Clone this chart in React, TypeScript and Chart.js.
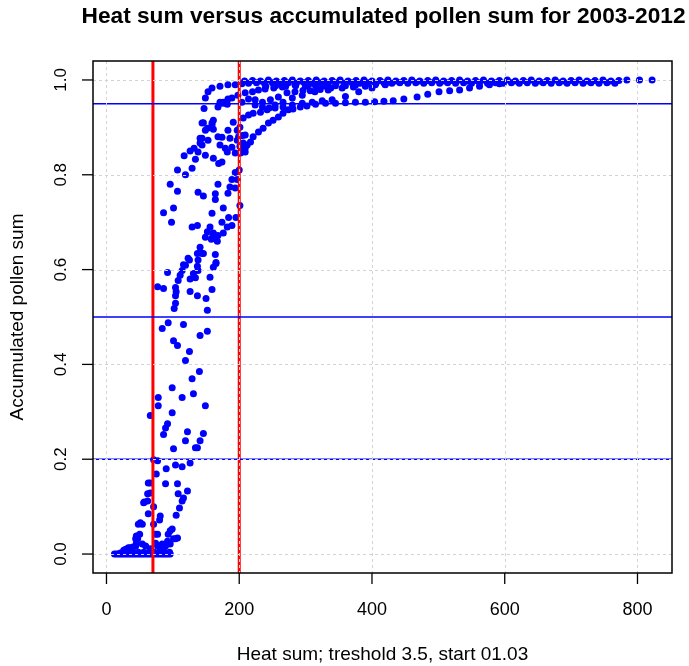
import { useEffect, useRef } from "react";
import { Chart, registerables } from "chart.js";

Chart.register(...registerables);

type P = [number, number];

const titleText = "Heat sum versus accumulated pollen sum for 2003-2012";
const xAxisTitle = "Heat sum; treshold 3.5, start 01.03";
const yAxisTitle = "Accumulated pollen sum";

const xTicks = [0, 200, 400, 600, 800];
const xTickLabels = ["0", "200", "400", "600", "800"];
const yTicks = [0, 0.2, 0.4, 0.6, 0.8, 1.0];
const yTickLabels = ["0.0", "0.2", "0.4", "0.6", "0.8", "1.0"];

const redVerticals = [70, 200];
const blueHorizontals = [0.2, 0.5, 0.95];

const baselineRow: P[] = [
  [12, 0], [15, 0], [18, 0], [21, 0], [24, 0], [27, 0], [30, 0], [33, 0], [36, 0], [39, 0],
  [42, 0], [45, 0], [48, 0], [51, 0], [54, 0], [57, 0], [60, 0], [63, 0], [66, 0], [69, 0],
  [72, 0], [75, 0], [78, 0], [81, 0], [84, 0], [87, 0], [90, 0], [93, 0], [96, 0],
  [40, 0.004], [48, 0.004], [56, 0.004], [64, 0.004], [72, 0.004], [80, 0.004], [88, 0.004], [95, 0.004],
];

const earlyRise: P[] = [
  [21, 0.002], [26, 0.008], [29, 0.01], [33, 0.013], [36, 0.013], [40, 0.015], [44, 0.017], [44, 0.032],
  [45, 0.038], [47, 0.032], [45, 0.023], [48, 0.063], [51, 0.066], [50, 0.042], [54, 0.021], [54, 0.063],
  [56, 0.108], [57, 0.11], [59, 0.017], [62, 0.112], [62, 0.127], [63, 0.085], [63, 0.15], [66, 0.129],
  [66, 0.011], [66, 0.15], [71, 0.063], [71, 0.1], [71, 0.199], [74, 0.023], [74, 0.042], [75, 0.169],
  [77, 0.017], [77, 0.042], [77, 0.197], [80, 0.072], [81, 0.08], [81, 0.011], [84, 0.021], [89, 0.017],
  [89, 0.148], [90, 0.18], [92, 0.027], [93, 0.042], [96, 0.021], [96, 0.049], [99, 0.053], [101, 0.032],
  [104, 0.032], [107, 0.034], [101, 0.222], [104, 0.188], [105, 0.082], [107, 0.148], [108, 0.127],
  [110, 0.097], [114, 0.112], [114, 0.184], [116, 0.118], [119, 0.239], [122, 0.133], [126, 0.192],
  [134, 0.224], [137, 0.224], [141, 0.239], [146, 0.254],
];

const midRise: P[] = [
  [66, 0.292], [78, 0.313], [78, 0.33], [86, 0.252], [89, 0.266], [92, 0.275], [99, 0.298], [99, 0.351],
  [114, 0.33], [122, 0.258], [131, 0.338], [129, 0.37], [140, 0.385], [149, 0.313], [119, 0.408],
  [125, 0.427], [101, 0.45], [107, 0.44], [84, 0.476], [93, 0.488], [116, 0.484], [141, 0.461],
  [152, 0.47], [152, 0.514], [150, 0.539], [156, 0.584], [159, 0.558], [77, 0.564], [86, 0.56],
  [92, 0.594], [102, 0.518], [104, 0.529], [104, 0.545], [105, 0.553], [104, 0.562], [108, 0.577],
  [111, 0.588], [114, 0.598], [119, 0.609], [123, 0.624], [126, 0.554], [126, 0.58], [134, 0.583],
  [137, 0.545], [138, 0.598], [131, 0.592], [137, 0.607], [138, 0.62], [125, 0.62], [116, 0.61],
  [137, 0.634], [141, 0.636], [146, 0.634], [141, 0.647], [144, 0.634], [161, 0.605], [164, 0.632],
  [165, 0.613], [165, 0.615],
];

const upperRise: P[] = [
  [86, 0.72], [98, 0.7], [101, 0.73], [96, 0.78], [107, 0.765], [107, 0.81], [119, 0.8], [117, 0.84],
  [126, 0.85], [129, 0.814], [134, 0.833], [132, 0.856], [141, 0.867], [144, 0.877], [138, 0.848],
  [144, 0.863], [153, 0.873], [141, 0.877], [146, 0.91], [144, 0.909], [152, 0.898], [159, 0.905],
  [161, 0.915], [149, 0.894], [159, 0.909], [161, 0.896], [129, 0.69], [137, 0.693], [138, 0.763],
  [146, 0.755], [149, 0.668], [152, 0.68], [156, 0.69], [158, 0.664], [160, 0.67], [161, 0.677],
  [167, 0.66], [168, 0.672], [164, 0.76], [164, 0.748], [168, 0.78], [159, 0.719], [174, 0.7],
  [176, 0.677], [176, 0.73], [182, 0.69], [183, 0.761], [184, 0.71], [186, 0.774], [189, 0.693],
  [189, 0.79], [194, 0.772], [194, 0.805], [195, 0.71], [197, 0.79], [200, 0.81], [201, 0.735],
  [169, 0.824], [161, 0.835], [149, 0.841], [174, 0.827], [182, 0.848], [194, 0.846], [171, 0.863],
  [179, 0.856], [189, 0.858], [174, 0.879], [183, 0.894], [186, 0.877], [191, 0.911], [168, 0.88],
  [197, 0.894], [201, 0.9], [199, 0.88], [205, 0.883], [197, 0.873], [201, 0.86], [204, 0.856],
  [209, 0.848], [206, 0.867], [212, 0.863], [209, 0.884],
];

const nearTopLeft: P[] = [
  [147, 0.94], [149, 0.962], [153, 0.975], [159, 0.983], [171, 0.987], [183, 0.99], [194, 0.99],
  [204, 0.992], [168, 0.943], [174, 0.951], [182, 0.949], [176, 0.953], [183, 0.96], [171, 0.953],
  [179, 0.951],
];

const bandHigh: P[] = [
  [189, 0.962], [198, 0.968], [209, 0.973], [220, 0.975], [229, 0.979], [239, 0.981], [252, 0.983],
  [265, 0.985], [284, 0.99], [304, 0.99], [325, 0.992],
];

const bandMid: P[] = [
  [204, 0.953], [214, 0.96], [224, 0.958], [235, 0.953], [247, 0.958], [259, 0.964], [272, 0.973],
  [284, 0.975], [296, 0.978], [307, 0.977], [322, 0.98], [338, 0.983], [355, 0.983], [372, 0.985],
  [390, 0.987],
];

const bandV: P[] = [
  [224, 0.947], [235, 0.943], [245, 0.941], [254, 0.947], [266, 0.953], [280, 0.962], [295, 0.968],
  [314, 0.975], [334, 0.979],
];

const bandLow: P[] = [
  [206, 0.92], [214, 0.926], [221, 0.93], [232, 0.932], [242, 0.937], [254, 0.941], [266, 0.943],
  [280, 0.947], [295, 0.951], [310, 0.953], [325, 0.956], [340, 0.958], [360, 0.965], [380, 0.975],
  [400, 0.983], [420, 0.99],
];

const bandLowest: P[] = [
  [202, 0.846], [209, 0.856], [217, 0.869], [221, 0.88], [229, 0.89], [236, 0.898], [244, 0.909],
  [251, 0.915], [259, 0.922], [266, 0.93], [274, 0.937], [281, 0.939], [292, 0.943], [302, 0.945],
  [315, 0.949], [330, 0.951], [345, 0.951], [360, 0.952], [375, 0.953], [390, 0.953], [404, 0.954],
  [418, 0.955], [432, 0.956], [448, 0.96], [468, 0.964], [484, 0.97], [501, 0.975], [517, 0.977],
  [532, 0.979], [547, 0.983], [562, 0.987], [577, 0.99], [592, 0.992],
];

const plateauTop: P[] = [
  [208, 0.998], [220, 0.999], [232, 0.998], [244, 1.0], [256, 0.998], [268, 0.999], [280, 1.0],
  [292, 0.998], [304, 0.999], [316, 1.0], [328, 0.998], [340, 0.999], [352, 1.0], [364, 0.998],
  [376, 0.999], [388, 1.0], [400, 0.998], [412, 0.999], [424, 1.0], [436, 0.998], [448, 0.999],
  [460, 1.0], [472, 0.998], [484, 0.999], [496, 1.0], [508, 0.998], [520, 0.999], [532, 1.0],
  [544, 0.998], [556, 0.999], [568, 1.0], [580, 0.998], [592, 0.999], [604, 1.0], [616, 0.998],
  [628, 0.999], [640, 1.0], [652, 0.998], [664, 0.999], [676, 1.0], [688, 0.998], [700, 0.999],
  [712, 1.0], [724, 0.998], [736, 0.999], [748, 1.0], [760, 0.998], [772, 0.999], [784, 1.0],
  [803, 1.0], [822, 1.0],
];

const plateauSecond: P[] = [
  [214, 0.993], [226, 0.994], [238, 0.993], [250, 0.994], [262, 0.993], [274, 0.994], [286, 0.993],
  [298, 0.994], [310, 0.993], [322, 0.994], [334, 0.993], [346, 0.994], [358, 0.993], [370, 0.994],
  [382, 0.993], [394, 0.994], [406, 0.993], [418, 0.994], [430, 0.993], [442, 0.994], [454, 0.993],
  [466, 0.994], [478, 0.993], [490, 0.994], [502, 0.993], [514, 0.994], [526, 0.993], [538, 0.994],
  [550, 0.993], [562, 0.994], [574, 0.993], [586, 0.994], [598, 0.993], [610, 0.994], [622, 0.993],
  [634, 0.994], [646, 0.993], [658, 0.994], [670, 0.993], [682, 0.994], [694, 0.993], [706, 0.994],
  [718, 0.993], [730, 0.994], [742, 0.993], [754, 0.994], [766, 0.993],
];

const plateauThird: P[] = [
  [240, 0.987], [255, 0.988], [270, 0.987], [285, 0.988], [300, 0.987], [315, 0.988], [330, 0.987],
  [345, 0.988], [360, 0.988], [375, 0.989], [390, 0.99], [405, 0.99], [420, 0.991],
];

const pointGroups: P[][] = [
  baselineRow, earlyRise, midRise, upperRise, nearTopLeft, bandHigh, bandMid, bandV,
  bandLow, bandLowest, plateauTop, plateauSecond, plateauThird,
];

const FONT = '"Liberation Sans", Arial, Helvetica, sans-serif';

const overlayPlugin = {
  id: "rOverlay",
  afterDatasetsDraw(chart: any) {
    const ctx: CanvasRenderingContext2D = chart.ctx;
    const area = chart.chartArea;
    const xs = chart.scales.x;
    const ys = chart.scales.y;
    ctx.save();
    ctx.beginPath();
    ctx.rect(area.left, area.top, area.right - area.left, area.bottom - area.top);
    ctx.clip();
    ctx.strokeStyle = "#FF0000";
    ctx.lineWidth = 3;
    for (const v of redVerticals) {
      const px = xs.getPixelForValue(v);
      ctx.beginPath();
      ctx.moveTo(px, area.top);
      ctx.lineTo(px, area.bottom);
      ctx.stroke();
    }
    ctx.strokeStyle = "#0000FF";
    ctx.lineWidth = 1.5;
    for (const h of blueHorizontals) {
      const py = ys.getPixelForValue(h);
      ctx.beginPath();
      ctx.moveTo(area.left, py);
      ctx.lineTo(area.right, py);
      ctx.stroke();
    }
    ctx.strokeStyle = "#D3D3D3";
    ctx.lineWidth = 1;
    ctx.setLineDash([3, 3]);
    for (const t of xTicks) {
      const px = Math.round(xs.getPixelForValue(t)) + 0.5;
      ctx.beginPath();
      ctx.moveTo(px, area.top);
      ctx.lineTo(px, area.bottom);
      ctx.stroke();
    }
    for (const t of yTicks) {
      const py = Math.round(ys.getPixelForValue(t)) + 0.5;
      ctx.beginPath();
      ctx.moveTo(area.left, py);
      ctx.lineTo(area.right, py);
      ctx.stroke();
    }
    ctx.restore();

    ctx.save();
    ctx.strokeStyle = "#000000";
    ctx.lineWidth = 1.5;
    ctx.strokeRect(area.left, area.top, area.right - area.left, area.bottom - area.top);
    ctx.lineWidth = 1.3;
    ctx.fillStyle = "#000000";
    ctx.font = `18px ${FONT}`;
    ctx.textAlign = "center";
    ctx.textBaseline = "alphabetic";
    xTicks.forEach((t, i) => {
      const px = xs.getPixelForValue(t);
      ctx.beginPath();
      ctx.moveTo(px, area.bottom);
      ctx.lineTo(px, area.bottom + 11);
      ctx.stroke();
      ctx.fillText(xTickLabels[i], px, area.bottom + 42);
    });
    ctx.font = `17px ${FONT}`;
    yTicks.forEach((t, i) => {
      const py = ys.getPixelForValue(t);
      ctx.beginPath();
      ctx.moveTo(area.left, py);
      ctx.lineTo(area.left - 11, py);
      ctx.stroke();
      ctx.save();
      ctx.translate(area.left - 27, py);
      ctx.rotate(-Math.PI / 2);
      ctx.fillText(yTickLabels[i], 0, 0);
      ctx.restore();
    });
    ctx.font = `19px ${FONT}`;
    const cx = (area.left + area.right) / 2;
    const cy = (area.top + area.bottom) / 2;
    ctx.fillText(xAxisTitle, cx, 660);
    ctx.save();
    ctx.translate(23, cy);
    ctx.rotate(-Math.PI / 2);
    ctx.fillText(yAxisTitle, 0, 0);
    ctx.restore();
    ctx.font = `bold 22.7px ${FONT}`;
    ctx.fillText(titleText, cx + 1, 23);
    ctx.restore();
  },
};

export default function App() {
  const canvasRef = useRef<HTMLCanvasElement | null>(null);

  useEffect(() => {
    document.body.style.margin = "0";
    const canvas = canvasRef.current;
    if (!canvas) return;
    const chart = new Chart(canvas, {
      type: "scatter",
      data: {
        datasets: pointGroups.map((g, i) => ({
          label: `group${i}`,
          data: g.map(([x, y]) => ({ x, y })),
          backgroundColor: "#0000FF",
          borderColor: "#0000FF",
          borderWidth: 0,
          pointRadius: 3.5,
          pointHoverRadius: 3.5,
        })),
      },
      options: {
        animation: false,
        responsive: false,
        devicePixelRatio: 1,
        layout: { padding: { left: 93, right: 17, top: 61, bottom: 93 } },
        plugins: { legend: { display: false }, tooltip: { enabled: false }, title: { display: false } },
        events: [],
        scales: {
          x: { type: "linear", min: -20.3, max: 852, display: false },
          y: { type: "linear", min: -0.04, max: 1.04, display: false },
        },
      },
      plugins: [overlayPlugin],
    });
    return () => chart.destroy();
  }, []);

  return (
    <div style={{ width: 689, height: 666, background: "#ffffff" }}>
      <canvas ref={canvasRef} width={689} height={666} style={{ display: "block", width: 689, height: 666 }} />
    </div>
  );
}
